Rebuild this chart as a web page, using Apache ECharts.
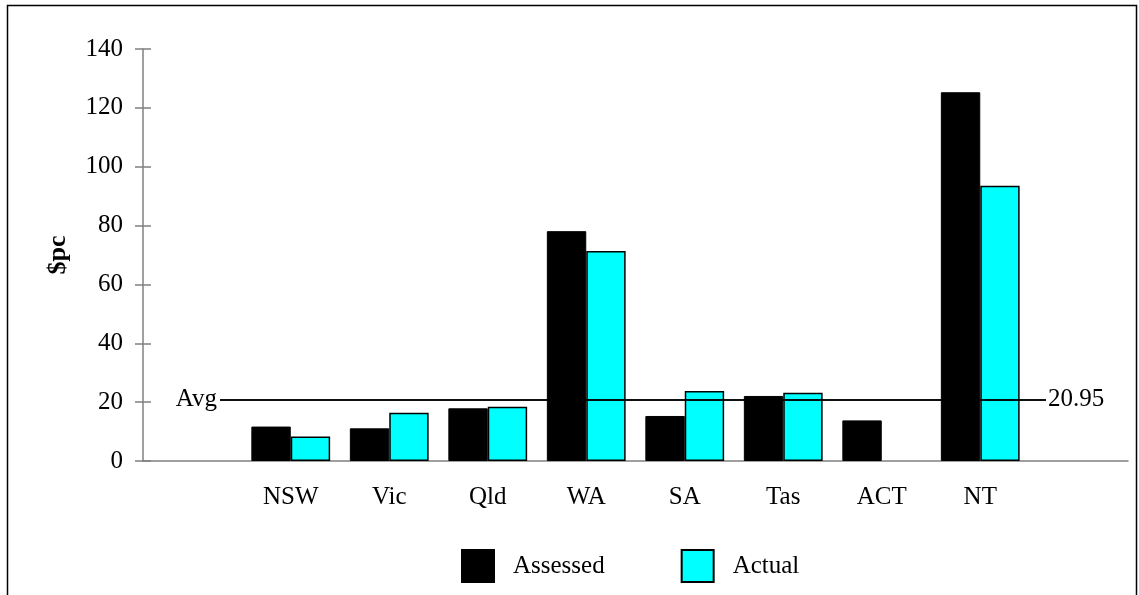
<!DOCTYPE html>
<html>
<head>
<meta charset="utf-8">
<script src="https://cdn.jsdelivr.net/npm/echarts@6/dist/echarts.min.js"></script>
<style>
html,body{margin:0;padding:0;background:#fff;}
#chart{width:1139px;height:595px;}
</style>
</head>
<body>
<div id="chart"></div>
<script>
// ---- data ----
const categories = ['', 'NSW', 'Vic', 'Qld', 'WA', 'SA', 'Tas', 'ACT', 'NT', ''];
const assessed = [null, 11.7, 11.1, 17.9, 78.1, 15.3, 22.1, 13.8, 125.3, null];
const actual = [null, 8.3, 16.4, 18.4, 71.4, 23.8, 23.2, null, 93.5, null];
const avgValue = 20.95;
const yTicks = { min: 0, max: 140, interval: 20 };
const yName = '$pc';
const seriesNames = ['Assessed', 'Actual'];

const FONT = '"Liberation Serif", "Times New Roman", serif';
const chart = echarts.init(document.getElementById('chart'), null, { renderer: 'canvas' });

const option = {
  animation: false,
  backgroundColor: '#ffffff',
  graphic: [{
    type: 'rect',
    shape: { x: 7.5, y: 5.5, width: 1129, height: 640 },
    style: { fill: 'none', stroke: '#000', lineWidth: 1.5 },
    silent: true
  }],
  grid: { left: 143, right: 11, top: 49, bottom: 134 },
  legend: {
    data: seriesNames,
    left: 456,
    top: 544,
    itemWidth: 32,
    itemHeight: 32,
    itemGap: 76,
    icon: 'rect',
    textStyle: { fontFamily: FONT, fontSize: 25, color: '#000', padding: [0, 0, 0, 14] }
  },
  xAxis: {
    type: 'category',
    data: categories,
    axisLine: { lineStyle: { color: '#808080', width: 1.5 } },
    axisTick: { show: false },
    axisLabel: { fontFamily: FONT, fontSize: 25, color: '#000', margin: 24, interval: 0 },
    splitLine: { show: false }
  },
  yAxis: [{
    type: 'value',
    min: yTicks.min, max: yTicks.max, interval: yTicks.interval,
    name: yName,
    nameLocation: 'middle',
    nameRotate: 90,
    nameGap: 72,
    nameTextStyle: { fontFamily: FONT, fontSize: 26, fontWeight: 'bold', color: '#000' },
    axisLine: { show: true, lineStyle: { color: '#808080', width: 1.5 } },
    axisTick: { show: true, length: 8, lineStyle: { color: '#808080', width: 1.5 } },
    axisLabel: { fontFamily: FONT, fontSize: 25, color: '#000', margin: 20 },
    splitLine: { show: false }
  }, {
    type: 'value',
    position: 'left',
    min: yTicks.min, max: yTicks.max, interval: yTicks.interval,
    axisLine: { show: false },
    axisTick: { show: true, inside: true, length: 8, lineStyle: { color: '#808080', width: 1.5 } },
    axisLabel: { show: false },
    splitLine: { show: false }
  }],
  series: [{
    name: seriesNames[0],
    type: 'bar',
    data: assessed,
    barGap: '0%',
    barCategoryGap: '20%',
    itemStyle: { color: '#000000', borderColor: '#000000', borderWidth: 1 },
    z: 2,
    markLine: {
      silent: true,
      symbol: 'none',
      z: 5,
      lineStyle: { color: '#000', width: 1.5, type: 'solid' },
      data: [
        [
          { x: 220, yAxis: avgValue, label: { show: true, position: 'start', formatter: 'Avg', distance: 3, fontFamily: FONT, fontSize: 25, color: '#000' } },
          { x: 1046, yAxis: avgValue }
        ],
        [
          { x: 220, yAxis: avgValue, label: { show: true, position: 'end', formatter: String(avgValue), distance: 2, fontFamily: FONT, fontSize: 25, color: '#000' } },
          { x: 1046, yAxis: avgValue }
        ]
      ]
    }
  }, {
    name: seriesNames[1],
    type: 'bar',
    data: actual,
    itemStyle: { color: '#00ffff', borderColor: '#000000', borderWidth: 1.5 },
    z: 2
  }]
};
chart.setOption(option);
</script>
</body>
</html>
